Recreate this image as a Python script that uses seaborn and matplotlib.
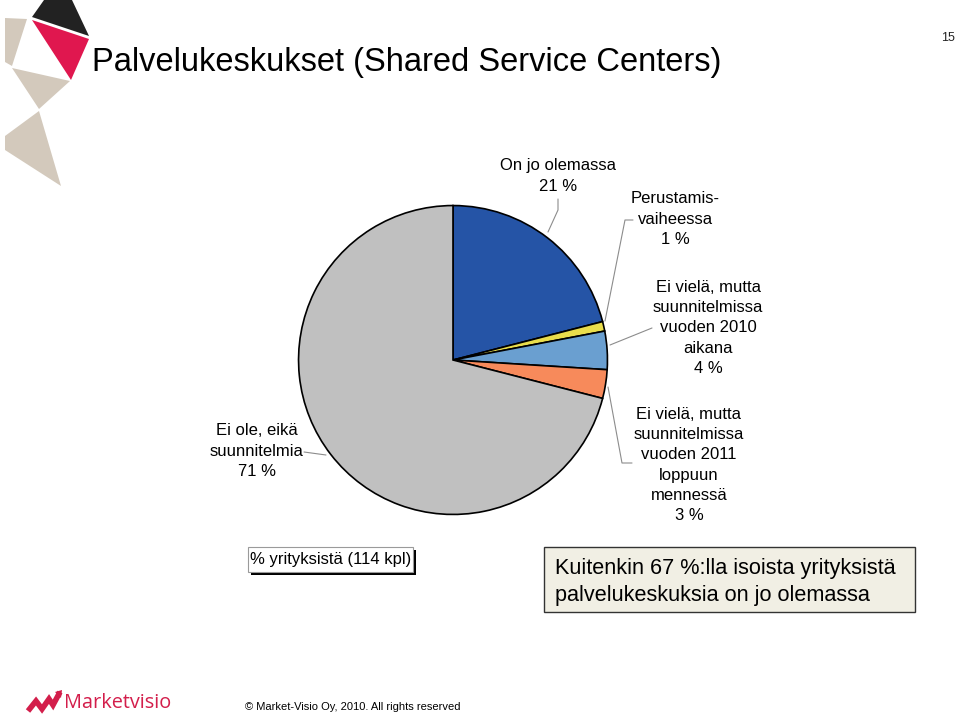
import matplotlib
matplotlib.use("Agg")
import matplotlib.pyplot as plt
import seaborn as sns
from matplotlib.patches import Polygon, Rectangle

sns.set_theme(style="white")
plt.rcParams['font.family'] = ['Liberation Sans', 'DejaVu Sans']

# ---- data ----
categories = ["On jo olemassa", "Perustamisvaiheessa",
              "Ei vielä, mutta suunnitelmissa vuoden 2010 aikana",
              "Ei vielä, mutta suunnitelmissa vuoden 2011 loppuun mennessä",
              "Ei ole, eikä suunnitelmia"]
values = [21, 1, 4, 3, 71]
labels = ["On jo olemassa\n21 %",
          "Perustamis-\nvaiheessa\n1 %",
          "Ei vielä, mutta\nsuunnitelmissa\nvuoden 2010\naikana\n4 %",
          "Ei vielä, mutta\nsuunnitelmissa\nvuoden 2011\nloppuun\nmennessä\n3 %",
          "Ei ole, eikä\nsuunnitelmia\n71 %"]
colors = ["#2554A6", "#E9DD4C", "#6A9FD0", "#F78A5B", "#C0C0C0"]

W, H = 959, 715
fig = plt.figure(figsize=(W / 100, H / 100), dpi=100)
fig.patch.set_facecolor("white")

# pie axes: centre (453,360), radius 156 px
cx, cy, r = 453, 360, 156
pax = fig.add_axes([(cx - r) / W, (H - (cy + r)) / H, 2 * r / W, 2 * r / H])
pax.pie(values, colors=colors, startangle=90, counterclock=False,
        wedgeprops=dict(edgecolor="black", linewidth=1.2))
pax.set_xlim(-1.01, 1.01)
pax.set_ylim(-1.01, 1.01)
pax.axis("off")

# overlay axes in pixel coordinates
ax = fig.add_axes([0, 0, 1, 1], facecolor="none")
ax.set_xlim(0, W)
ax.set_ylim(H, 0)
ax.axis("off")

# decorative triangles
beige = "#D3C9BC"
ax.add_patch(Polygon([(32, 17), (44, 0), (72, 0), (89, 36)], closed=True, fc="#222222", ec="none"))
ax.add_patch(Polygon([(32, 20), (89, 39), (71, 80)], closed=True, fc="#E0174F", ec="none"))
ax.add_patch(Polygon([(5, 18), (27, 19), (12, 66), (5, 62)], closed=True, fc=beige, ec="none"))
ax.add_patch(Polygon([(12, 68), (70, 81), (39, 109)], closed=True, fc=beige, ec="none"))
ax.add_patch(Polygon([(39, 111), (5, 136), (5, 150), (61, 186)], closed=True, fc=beige, ec="none"))

# title and page number
ax.text(92, 62, "Palvelukeskukset (Shared Service Centers)", fontsize=23.5,
        ha="left", va="center", color="black")
ax.text(948, 38, "15", fontsize=9, ha="center", va="center", color="#222222")

# slice labels
lab_pos = [(558, 176), (675, 219), (708, 328), (689, 465), (257, 451)]
for (x, y), t in zip(lab_pos, labels):
    ax.text(x, y, t, fontsize=12, ha="center", va="center", linespacing=1.42,
            color="black")

# leader lines
lc = "#8C8C8C"
leaders = [
    [(558, 199), (558, 210), (548, 232)],
    [(633, 220), (625, 220), (605, 321)],
    [(652, 328), (610, 345)],
    [(608, 387), (622, 463), (632, 463)],
    [(304, 452), (326, 455)],
]
for pts in leaders:
    xs, ys = zip(*pts)
    ax.plot(xs, ys, color=lc, lw=0.8)

# small legend-like box with shadow
ax.add_patch(Rectangle((251, 550), 165, 25, fc="black", ec="none"))
ax.add_patch(Rectangle((248, 547), 165, 25, fc="white", ec="#9A9A9A", lw=0.8))
ax.text(330.5, 559.5, "% yrityksistä (114 kpl)", fontsize=12, ha="center",
        va="center", color="black")

# conclusion box
ax.add_patch(Rectangle((544, 547), 371, 65, fc="#F1EFE4", ec="#333333", lw=1.0))
ax.text(555, 582, "Kuitenkin 67 %:lla isoista yrityksistä\npalvelukeskuksia on jo olemassa",
        fontsize=15.6, ha="left", va="center", linespacing=1.38, color="black")

# footer logo and copyright
crimson = "#D31E4B"
ax.plot([28, 36, 42, 49, 53, 60], [711, 701, 709, 699, 705, 692], color=crimson,
        lw=4, solid_capstyle="butt", solid_joinstyle="miter")
ax.add_patch(Polygon([(55, 692), (62, 690), (61, 698)], closed=True, fc=crimson, ec="none"))
ax.text(64, 703, "Marketvisio", fontsize=14.3, family=["Open Sans", "DejaVu Sans"],
        ha="left", va="center", color=crimson)
ax.text(245, 707, "© Market-Visio Oy, 2010. All rights reserved", fontsize=8,
        ha="left", va="center", color="black")

fig.savefig("out.png", dpi=100)
